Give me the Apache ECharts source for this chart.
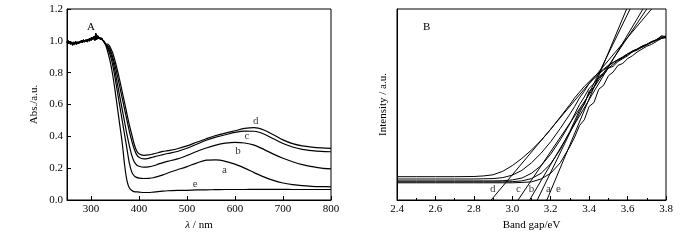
<!DOCTYPE html>
<html>
<head>
<meta charset="utf-8">
<script src="https://cdn.jsdelivr.net/npm/echarts@6/dist/echarts.min.js"></script>
<style>
html,body{margin:0;padding:0;background:#fff;}
#main{width:700px;height:240px;}
</style>
</head>
<body>
<div id="main"></div>
<script>
// ---- panel A : UV-vis absorption ----
var topWl = [250,252,254,256,258,260,262,264,266,268,270,272,274,276,278,280,282,284,286,288,290,292,294,296,298,300,302,304,306,308,310,312,314,316,318,320,322,324,326,328,330];
var topAbs = [0.99,1.0,0.985,0.995,0.98,0.99,0.975,0.99,0.98,0.995,0.98,0.99,0.985,0.995,0.99,1.0,0.99,1.005,0.995,1.0,1.005,0.995,1.01,1.0,1.015,1.005,1.02,1.01,1.025,1.005,1.045,1.01,1.03,1.015,1.02,1.01,1.015,1.005,1.0,0.99,0.98];

var wlA = [335,340,345,350,355,360,365,370,375,380,385,390,395,400,410,420,430,440,450,460,480,500,520,540,560,580,600,620,640,660,680,700,720,740,760,780,800];
var absA = [0.95,0.91,0.85,0.77,0.68,0.59,0.5,0.41,0.32,0.23,0.175,0.152,0.142,0.138,0.135,0.136,0.14,0.148,0.158,0.17,0.19,0.21,0.232,0.25,0.252,0.243,0.225,0.2,0.172,0.145,0.123,0.107,0.097,0.09,0.086,0.084,0.083];
var absB = [0.96,0.93,0.88,0.81,0.73,0.65,0.57,0.49,0.41,0.34,0.28,0.24,0.22,0.212,0.206,0.208,0.215,0.225,0.235,0.243,0.258,0.28,0.305,0.327,0.345,0.357,0.362,0.358,0.345,0.318,0.288,0.262,0.24,0.222,0.21,0.2,0.195];
var absC = [0.97,0.945,0.9,0.845,0.78,0.71,0.64,0.57,0.5,0.43,0.37,0.32,0.285,0.268,0.258,0.262,0.27,0.278,0.285,0.292,0.305,0.325,0.35,0.375,0.395,0.41,0.425,0.433,0.432,0.415,0.385,0.355,0.333,0.318,0.31,0.305,0.303];
var absD = [0.98,0.96,0.925,0.875,0.815,0.75,0.68,0.61,0.54,0.47,0.41,0.35,0.31,0.29,0.28,0.283,0.29,0.297,0.305,0.31,0.322,0.34,0.363,0.385,0.405,0.42,0.435,0.45,0.455,0.44,0.41,0.378,0.354,0.34,0.332,0.327,0.324];
var absE = [0.93,0.87,0.79,0.69,0.58,0.47,0.36,0.22,0.12,0.075,0.06,0.053,0.051,0.05,0.047,0.047,0.05,0.053,0.056,0.058,0.06,0.061,0.063,0.064,0.065,0.066,0.066,0.066,0.067,0.067,0.067,0.067,0.066,0.066,0.066,0.066,0.066];

var labelsA = [['d',643,0.495],['c',625,0.40],['b',606,0.305],['a',578,0.185],['e',517,0.099]];
var ticksA = [300,400,500,600,700,800];

// ---- panel B : band gap ----
var eB = [2.4,2.5,2.6,2.7,2.8,2.85,2.9,2.95,3.0,3.05,3.1,3.15,3.2,3.25,3.3,3.325,3.35,3.375,3.4,3.425,3.45,3.475,3.5,3.525,3.55,3.575,3.6,3.625,3.65,3.675,3.7,3.725,3.75,3.775,3.8];
var intD = [0.122,0.122,0.122,0.122,0.123,0.126,0.132,0.15,0.18,0.218,0.262,0.312,0.37,0.435,0.5,0.535,0.565,0.595,0.62,0.645,0.665,0.685,0.705,0.72,0.735,0.745,0.765,0.775,0.79,0.805,0.815,0.825,0.84,0.845,0.86];
var intC = [0.11,0.11,0.11,0.11,0.11,0.111,0.112,0.117,0.13,0.155,0.195,0.245,0.305,0.375,0.45,0.49,0.535,0.57,0.61,0.635,0.66,0.68,0.7,0.72,0.735,0.75,0.765,0.78,0.79,0.805,0.815,0.83,0.835,0.85,0.855];
var intB = [0.1,0.1,0.1,0.1,0.1,0.1,0.1,0.101,0.105,0.115,0.14,0.18,0.24,0.315,0.4,0.45,0.5,0.54,0.585,0.61,0.645,0.665,0.69,0.71,0.73,0.745,0.76,0.78,0.79,0.8,0.815,0.825,0.84,0.855,0.85];
var intA = [0.095,0.095,0.095,0.095,0.095,0.095,0.095,0.095,0.096,0.1,0.112,0.14,0.19,0.265,0.36,0.415,0.47,0.5,0.57,0.59,0.64,0.655,0.69,0.7,0.725,0.74,0.755,0.775,0.785,0.8,0.81,0.83,0.835,0.86,0.855];
var intE = [0.09,0.09,0.09,0.09,0.09,0.09,0.09,0.09,0.09,0.092,0.095,0.11,0.14,0.195,0.28,0.33,0.39,0.42,0.49,0.51,0.58,0.6,0.65,0.67,0.705,0.715,0.74,0.755,0.775,0.79,0.805,0.815,0.83,0.845,0.85];

// tangent lines: x where they cut 0 and x where they reach 1 (d,c,b,a,e)
var fitStart = [2.89,3.03,3.09,3.13,3.18];
var fitEnd = [3.725,3.70,3.68,3.613,3.595];
var labelsB = [['d',2.898,0.057],['c',3.032,0.057],['b',3.10,0.057],['a',3.188,0.057],['e',3.24,0.057]];

var font = 'Liberation Serif';

function pairs(xs, ys)
{
    var out = [];
    for (var i = 0; i < xs.length; i++) out.push([xs[i], ys[i]]);
    return out;
}

function curveA(vals)
{
    return {
        type: 'line', xAxisIndex: 0, yAxisIndex: 0,
        showSymbol: false, smooth: 0.3, silent: true,
        lineStyle: {color: '#000', width: 1.2},
        data: pairs(topWl, topAbs).concat(pairs(wlA, vals))
    };
}

function curveB(vals)
{
    return {
        type: 'line', xAxisIndex: 1, yAxisIndex: 1,
        showSymbol: false, silent: true,
        lineStyle: {color: '#000', width: 1},
        data: pairs(eB, vals)
    };
}

function textSeries(list, ax)
{
    return {
        type: 'scatter', xAxisIndex: ax, yAxisIndex: ax,
        symbolSize: 0, silent: true,
        label: {
            show: true, position: 'inside', color: '#000',
            fontFamily: font, fontSize: 11,
            formatter: function (p) { return p.data[2]; }
        },
        data: list.map(function (l) { return [l[1], l[2], l[0]]; })
    };
}

var series = [
    curveA(absA), curveA(absB), curveA(absC), curveA(absD), curveA(absE),
    curveB(intD), curveB(intC), curveB(intB), curveB(intA), curveB(intE),
    textSeries(labelsA, 0), textSeries(labelsB, 1)
];
for (var k = 0; k < fitStart.length; k++)
{
    series.push({
        type: 'line', xAxisIndex: 1, yAxisIndex: 1,
        showSymbol: false, silent: true,
        lineStyle: {color: '#000', width: 1},
        data: [[fitStart[k], 0], [fitEnd[k], 1]]
    });
}

var axisBase = {
    axisLine: {lineStyle: {color: '#000', width: 1}},
    axisTick: {inside: true, length: 4, lineStyle: {color: '#000'}},
    splitLine: {show: false},
    axisLabel: {color: '#000', fontFamily: font, fontSize: 11}
};

var myChart = echarts.init(document.getElementById('main'));
myChart.setOption({
    animation: false,
    title: [
        {text: 'A', left: 82, top: 17, textStyle: {fontFamily: font, fontSize: 11, fontWeight: 'normal', color: '#000'}},
        {text: 'B', left: 418, top: 17, textStyle: {fontFamily: font, fontSize: 11, fontWeight: 'normal', color: '#000'}}
    ],
    grid: [
        {left: 67, top: 9, width: 264, height: 191, show: true, borderColor: '#000', borderWidth: 1},
        {left: 397, top: 9, width: 269, height: 191, show: true, borderColor: '#000', borderWidth: 1}
    ],
    xAxis: [
        echarts.util.merge({
            type: 'value', gridIndex: 0, min: 250, max: 800,
            name: '{i|λ} / nm', nameLocation: 'middle', nameGap: 20,
            nameTextStyle: {color: '#000', fontFamily: font, fontSize: 11,
                rich: {i: {fontStyle: 'italic', fontFamily: font, fontSize: 11, color: '#000'}}},
            axisTick: {customValues: ticksA},
            axisLabel: {customValues: ticksA, margin: 4}
        }, axisBase, false),
        echarts.util.merge({
            type: 'value', gridIndex: 1, min: 2.4, max: 3.8, interval: 0.2,
            name: 'Band gap/eV', nameLocation: 'middle', nameGap: 20,
            nameTextStyle: {color: '#000', fontFamily: font, fontSize: 11},
            minorTick: {show: true, splitNumber: 2, length: 2, lineStyle: {color: '#000'}},
            axisLabel: {margin: 4, formatter: function (v) { return v.toFixed(1); }}
        }, axisBase, false)
    ],
    yAxis: [
        echarts.util.merge({
            type: 'value', gridIndex: 0, min: 0, max: 1.2, interval: 0.2,
            name: 'Abs./a.u.', nameLocation: 'middle', nameGap: 27,
            nameTextStyle: {color: '#000', fontFamily: font, fontSize: 11},
            axisLabel: {margin: 4, formatter: function (v) { return v.toFixed(1); }}
        }, axisBase, false),
        echarts.util.merge({
            type: 'value', gridIndex: 1, min: 0, max: 1,
            name: 'Intensity / a.u.', nameLocation: 'middle', nameGap: 8,
            nameTextStyle: {color: '#000', fontFamily: font, fontSize: 11},
            axisTick: {show: false},
            axisLabel: {show: false}
        }, axisBase, false)
    ],
    series: series
});
</script>
</body>
</html>
